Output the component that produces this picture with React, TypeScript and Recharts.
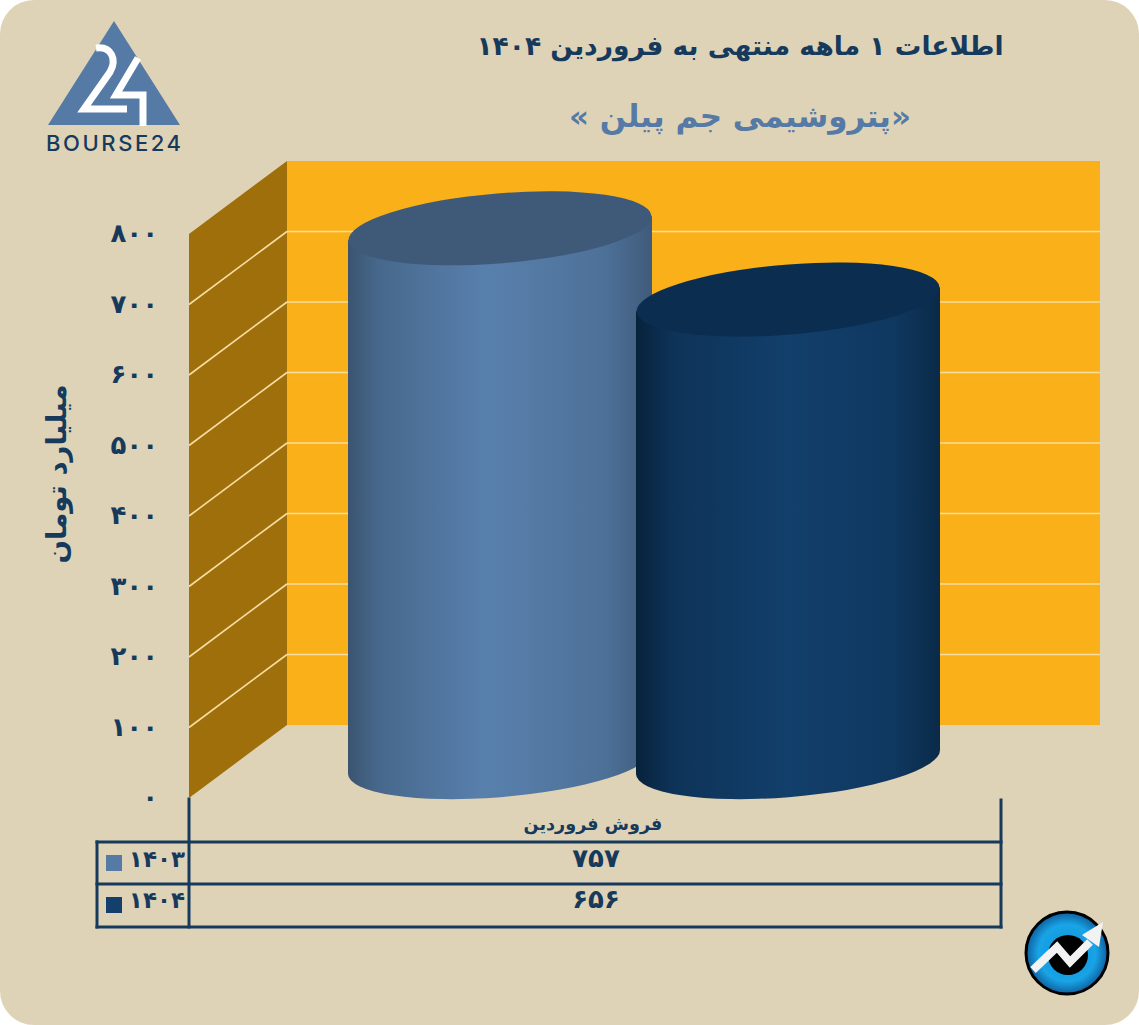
import { Bar, BarChart, ReferenceArea, ReferenceLine, XAxis, YAxis } from 'recharts'

const categories = ['فروش فروردین']
const seriesNames = ['1403', '1404']
const values1403 = [757]
const values1404 = [656]
const yTicks = [0, 100, 200, 300, 400, 500, 600, 700, 800]
const gridTicks = [100, 200, 300, 400, 500, 600, 700]

const titleText = 'اطلاعات ۱ ماهه منتهی به فروردین ۱۴۰۴'
const subtitleText = '«پتروشیمی جم پیلن »'
const yTitle = 'میلیارد تومان'

const NAVY = '#163a5c'
const STEEL = '#557aa5'
const FONT = '"DejaVu Sans", sans-serif'

// half of the fake 3D depth: the bars stand on the mid plane
const DEPTH_X = 49
const DEPTH_BACK = 37
const DEPTH_FRONT = 36
const TILT = -4.7
const RY = 35

const data = categories.map((name, i) => ({
	name,
	y1403: values1403[i],
	y1404: values1404[i],
}))

function fa(v: number | string): string {
	return String(v).replace(/\d/g, (d) => '۰۱۲۳۴۵۶۷۸۹'[Number(d)])
}

function Walls({ x, y, width, height }: any) {
	const bx = x + DEPTH_X
	const by = y - DEPTH_BACK
	const fx = x - DEPTH_X
	return (
		<g>
			<rect x={bx} y={by} width={width + 1} height={height} fill='#fab119' />
			<polygon
				points={`${fx},${y + DEPTH_FRONT} ${bx},${by} ${bx},${by + height} ${fx},${y + height + DEPTH_FRONT}`}
				fill='#9e6f0a'
			/>
		</g>
	)
}

function WallLine({ x1, y1, x2, y2 }: any) {
	const bx = x1 + DEPTH_X
	return (
		<g stroke='#f7dda2' strokeWidth={1.6} fill='none'>
			<line x1={bx} y1={y1 - DEPTH_BACK} x2={x2 + DEPTH_X + 1} y2={y2 - DEPTH_BACK} />
			<line x1={x1 - DEPTH_X} y1={y1 + DEPTH_FRONT} x2={bx} y2={y1 - DEPTH_BACK} />
		</g>
	)
}

function cylinder(gradient: string, topFill: string) {
	return function Cylinder({ x, y, width, height }: any) {
		const cx = x + width / 2
		const rx = width / 2
		const bottom = y + height
		const d = `M${x},${y + 12} L${x},${bottom + 12} A${rx},${RY} ${TILT} 0 0 ${x + width},${bottom - 12} L${x + width},${y - 12} Z`
		return (
			<g>
				<path d={d} fill={`url(#${gradient})`} />
				<ellipse cx={cx} cy={y} rx={rx} ry={RY} fill={topFill} transform={`rotate(${TILT} ${cx} ${y})`} />
			</g>
		)
	}
}

function YTick({ x, y, payload }: any) {
	return (
		<text x={x - 80} y={y + DEPTH_FRONT - 1} dy={9} textAnchor='end' fontFamily={FONT} fontWeight={700} fontSize={26} fill={NAVY}>
			{fa(payload.value)}
		</text>
	)
}

function XTick({ x, payload }: any) {
	return (
		<text x={x - DEPTH_X - 2} y={830} textAnchor='middle' direction='rtl' fontFamily={FONT} fontWeight={700} fontSize={17.6} fill={NAVY}>
			{payload.value}
		</text>
	)
}

export default function App() {
	return (
		<div style={{ position: 'absolute', left: 0, top: 0, width: 1139, height: 1025 }}>
			<BarChart
				width={1139}
				height={1025}
				data={data}
				barSize={304}
				barGap={-16}
				margin={{ top: 198, right: 89, bottom: 233, left: 158 }}
			>
				<defs>
					<linearGradient id='barA' x1='0' y1='0' x2='1' y2='0'>
						<stop offset='0' stopColor='#3a5470' />
						<stop offset='0.1' stopColor='#47688c' />
						<stop offset='0.45' stopColor='#5880ad' />
						<stop offset='0.55' stopColor='#567da8' />
						<stop offset='0.85' stopColor='#4d7097' />
						<stop offset='1' stopColor='#3f5b7b' />
					</linearGradient>
					<linearGradient id='barB' x1='0' y1='0' x2='1' y2='0'>
						<stop offset='0' stopColor='#07223b' />
						<stop offset='0.12' stopColor='#0e3358' />
						<stop offset='0.5' stopColor='#123f6b' />
						<stop offset='0.85' stopColor='#0f3860' />
						<stop offset='1' stopColor='#0a2a48' />
					</linearGradient>
					<radialGradient id='badge' cx='0.5' cy='0.5' r='0.5'>
						<stop offset='0' stopColor='#0f8fd8' />
						<stop offset='0.7' stopColor='#18a4e6' />
						<stop offset='1' stopColor='#0f5f9e' />
					</radialGradient>
				</defs>
				<rect x={0} y={0} width={1139} height={1025} rx={34} fill='#dfd3b7' />

				{/* logo */}
				<polygon points='114,21 180,125 48,125' fill={STEEL} />
				<path d='M96,48 C112,46 117,60 110,72 L84,109 L127,109' fill='none' stroke='#fff' strokeWidth={7} />
				<path d='M138,58 L116,95 L143,95 L143,126' fill='none' stroke='#fff' strokeWidth={7} />
				<text x={46} y={151} textLength={135} fontFamily='Inter, sans-serif' fontWeight={500} fontSize={22} fill={NAVY}>
					BOURSE24
				</text>

				<text x={740} y={55} textAnchor='middle' direction='rtl' fontFamily={FONT} fontWeight={700} fontSize={26.5} fill={NAVY}>
					{titleText}
				</text>
				<text x={740} y={127} textAnchor='middle' direction='rtl' fontFamily={FONT} fontWeight={700} fontSize={31} fill={STEEL}>
					{subtitleText}
				</text>
				<text
					transform='translate(56 474) rotate(-90)'
					y={10}
					textAnchor='middle'
					direction='rtl'
					fontFamily={FONT}
					fontWeight={700}
					fontSize={27.5}
					fill={NAVY}
				>
					{yTitle}
				</text>

				<ReferenceArea y1={0} y2={800} ifOverflow='visible' shape={<Walls />} />
				{gridTicks.map((t) => (
					<ReferenceLine key={t} y={t} ifOverflow='visible' zIndex={150} shape={<WallLine />} />
				))}

				<XAxis dataKey='name' axisLine={false} tickLine={false} tick={<XTick />} />
				<YAxis
					width={80}
					domain={[0, 800]}
					ticks={yTicks}
					axisLine={false}
					tickLine={false}
					tickSize={0}
					tickMargin={0}
					tick={<YTick />}
				/>

				<Bar dataKey='y1403' name={seriesNames[0]} isAnimationActive={false} shape={cylinder('barA', '#3f5a79')} />
				<Bar dataKey='y1404' name={seriesNames[1]} isAnimationActive={false} shape={cylinder('barB', '#0b2d4f')} />

				{/* data table under the plot */}
				<g stroke={NAVY} strokeWidth={3} strokeLinecap='square' fill='none'>
					<line x1={97} y1={842} x2={1001} y2={842} />
					<line x1={97} y1={884} x2={1001} y2={884} />
					<line x1={97} y1={927} x2={1001} y2={927} />
					<line x1={97} y1={842} x2={97} y2={927} />
					<line x1={189} y1={799} x2={189} y2={927} />
					<line x1={1001} y1={800} x2={1001} y2={927} />
				</g>
				<rect x={106} y={855} width={16} height={16} fill={STEEL} />
				<rect x={106} y={897} width={16} height={16} fill='#123f6b' />
				{[values1403[0], values1404[0]].map((v, i) => (
					<g key={seriesNames[i]} fontFamily={FONT} fontWeight={700} fill={NAVY}>
						<text x={185} y={867 + i * 41} textAnchor='end' fontSize={23}>
							{fa(seriesNames[i])}
						</text>
						<text x={596} y={867 + i * 41} textAnchor='middle' fontSize={26}>
							{fa(v)}
						</text>
					</g>
				))}

				{/* badge */}
				<circle cx={1067} cy={953} r={41} fill='url(#badge)' stroke='#000' strokeWidth={3} />
				<circle cx={1068} cy={955} r={20} fill='#000' />
				<path d='M1033,970 L1057,947 L1070,962 L1090,942' fill='none' stroke='#f2f2f2' strokeWidth={8} />
				<polygon points='1082,935 1103,922 1099,947' fill='#f2f2f2' />
			</BarChart>
		</div>
	)
}
